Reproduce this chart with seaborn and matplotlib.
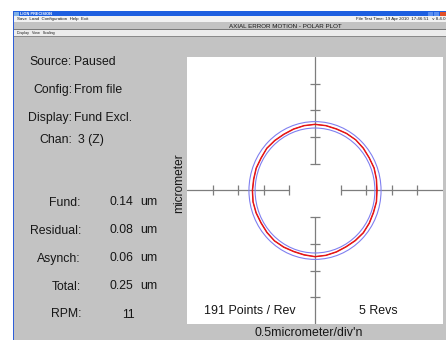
import numpy as np
import pandas as pd
import matplotlib
matplotlib.use("Agg")
import matplotlib.pyplot as plt
from matplotlib.patches import Rectangle, Circle
import seaborn as sns

# ---- data -------------------------------------------------------------
um_per_div = 0.5
angles_deg = [0, 10, 20, 30, 40, 50, 60, 70, 80, 90, 100, 110,
              120, 130, 140, 150, 160, 170, 180, 190, 200, 210, 220, 230,
              240, 250, 260, 270, 280, 290, 300, 310, 320, 330, 340, 350]
# measured radius per revolution (micrometer, incl. base circle)
rev1_um = [1.205, 1.215, 1.225, 1.220, 1.228, 1.236, 1.230, 1.222, 1.230, 1.236,
           1.230, 1.220, 1.212, 1.218, 1.226, 1.212, 1.218, 1.212, 1.218, 1.226,
           1.220, 1.212, 1.220, 1.228, 1.220, 1.212, 1.220, 1.236, 1.230, 1.220,
           1.212, 1.220, 1.228, 1.220, 1.210, 1.215]
rev2_um = [1.215, 1.222, 1.232, 1.226, 1.236, 1.240, 1.236, 1.230, 1.236, 1.242,
           1.236, 1.228, 1.220, 1.226, 1.232, 1.220, 1.226, 1.220, 1.226, 1.232,
           1.228, 1.220, 1.228, 1.234, 1.228, 1.220, 1.228, 1.242, 1.236, 1.228,
           1.220, 1.228, 1.236, 1.228, 1.218, 1.222]
outer_um = 1.290
inner_um = 1.170
tick_divs = [1, 2, 3, 4]

info_labels = ["Source:", "Config:", "Display:", "Chan:"]
info_values = ["Paused", "From file", "Fund Excl.", "3 (Z)"]
result_labels = ["Fund:", "Residual:", "Asynch:", "Total:", "RPM:"]
result_values = ["0.14", "0.08", "0.06", "0.25", "11"]
result_units = ["um", "um", "um", "um", ""]

# ---- figure -----------------------------------------------------------
sns.set_theme(style="white")
plt.rcParams['font.family'] = ['Liberation Sans', 'DejaVu Sans']

W, H = 446, 340
fig = plt.figure(figsize=(W / 100, H / 100), dpi=100)
fig.patch.set_facecolor('white')


def rect(x0, y0, x1, y1, color, z=0):
    fig.patches.append(Rectangle((x0 / W, 1 - y1 / H), (x1 - x0) / W, (y1 - y0) / H,
                                 transform=fig.transFigure, facecolor=color,
                                 edgecolor='none', zorder=z))


def text(x, y, s, size, ha='left', va='center', color='#161616', **kw):
    fig.text(x / W, 1 - y / H, s, fontsize=size, ha=ha, va=va, color=color,
             zorder=10, **kw)


# window body
rect(13, 11, 446, 340, '#c3c3c3')
# title bar
rect(13, 11, 446, 16.5, '#1e5fe0')
rect(14, 11.8, 18.5, 15.8, '#7fb0e8', z=1)
text(20, 13.8, "LION PRECISION", 2.8, color='white', weight='bold')
rect(428, 11.8, 433, 15.8, '#5b8ff0', z=1)
rect(434, 11.8, 439, 15.8, '#5b8ff0', z=1)
rect(440, 11.8, 446, 15.8, '#e0502a', z=1)
# menu bar
rect(13, 16.5, 446, 22, '#f2f2f2')
text(17, 19.3, "Save  Load  Configuration  Help  Exit", 3.2)
text(446, 19.3, "File Test Time: 19 Apr 2010  17:46:51   v 8.4.0", 3.2, ha='right')
# page title strip
rect(13, 22, 446, 29, '#c3c3c3')
text(229, 26.3, "AXIAL ERROR MOTION - POLAR PLOT", 4.5)
rect(13, 29, 446, 29.8, '#7a7a7a')
rect(13, 29.8, 446, 35.5, '#ececec')
text(17, 32.6, "Display   View   Scaling", 2.6)
rect(13, 35.5, 446, 37, '#8a8a8a')
# left window border
rect(13, 11, 14, 340, '#2f5fd8', z=2)

# info panel
info_y = [62, 90, 118, 140]
for lab, y in zip(info_labels, info_y):
    text(72, y, lab, 8.8, ha='right')
for val, y, x in zip(info_values, info_y, [74, 74, 74, 78]):
    text(x, y, val, 8.8)

res_y = [203, 231, 259, 287, 314]
for lab, val, unit, y in zip(result_labels, result_values, result_units, res_y):
    text(81, y, lab, 8.8, ha='right')
    if unit:
        text(110, y - 1, val, 8.8)
        text(140, y - 1, unit, 8.8)
    else:
        text(128, y + 1, val, 8.8, ha='center')

# ---- polar plot -------------------------------------------------------
ax = fig.add_axes([187 / W, 1 - 324 / H, 256 / W, 267 / H])
ax.set_zorder(5)
ax.set_facecolor('white')
for s in ax.spines.values():
    s.set_visible(False)

axis_col = '#7d7d7d'
for a, b in [(-5, -1), (1, 5)]:
    ax.plot([a, b], [0, 0], color=axis_col, lw=0.9, zorder=1)
    ax.plot([0, 0], [a, b], color=axis_col, lw=0.9, zorder=1)
tick_pos = [-t for t in tick_divs] + tick_divs
ax.plot(tick_pos, [0] * len(tick_pos), ls='none', marker='|', ms=6.5, mew=0.9,
        color=axis_col, zorder=1)
ax.plot([0] * len(tick_pos), tick_pos, ls='none', marker='_', ms=6.5, mew=0.9,
        color=axis_col, zorder=1)

# min / max circles
for r in (outer_um, inner_um):
    ax.add_patch(Circle((0, 0), r / um_per_div, fill=False, ec='#8080f0', lw=0.8, zorder=2))

# measured trace
theta = np.deg2rad(angles_deg + [angles_deg[0]])
frames = []
for i, rev in enumerate([rev1_um, rev2_um]):
    r = np.array(rev + [rev[0]]) / um_per_div
    frames.append(pd.DataFrame({'x': r * np.cos(theta), 'y': r * np.sin(theta),
                                'rev': i}))
trace = pd.concat(frames, ignore_index=True)
sns.lineplot(data=trace, x='x', y='y', units='rev', estimator=None, sort=False,
             color='#e41414', lw=0.8, ax=ax, zorder=3)
ax.set_xlabel('')
ax.set_ylabel('')
ax.set_xticks([])
ax.set_yticks([])
ax.set_xlim(-5, 5)
ax.set_ylim(-5, 5)

text(250, 311, "191 Points / Rev", 8.9, ha='center')
text(378.5, 311, "5 Revs", 8.9, ha='center')
text(309, 333, "0.5micrometer/div'n", 8.9, ha='center')
text(179, 183, "micrometer", 8.6, ha='center', rotation=90)

fig.savefig('out.png', dpi=100, facecolor=fig.get_facecolor())
